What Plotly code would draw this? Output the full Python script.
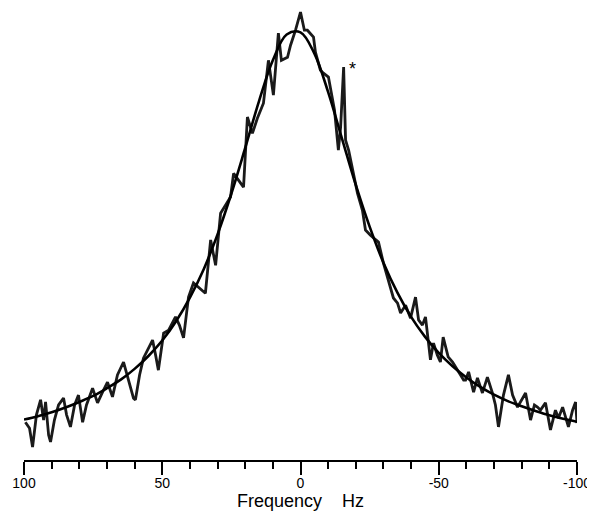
import plotly.graph_objects as go

# measured spectrum (frequency in Hz, intensity in arbitrary units)
spectrum_freq = [
    99.5, 98.0, 96.9, 95.5, 94.0, 92.9, 92.2, 91.1, 90.4, 89.0,
    87.5, 85.7, 84.6, 83.2, 81.7, 80.3, 78.8, 77.4, 75.2, 73.4,
    71.6, 69.8, 68.0, 66.2, 64.0, 62.2, 60.4, 59.7, 58.2, 56.8,
    55.3, 53.5, 52.4, 51.4, 49.5, 47.7, 45.2, 43.8, 42.3, 40.5,
    38.7, 36.9, 34.4, 32.5, 30.7, 28.9, 27.1, 25.3, 24.2, 22.4,
    20.6, 19.2, 17.4, 15.6, 13.4, 11.6, 9.8, 8.0, 6.9, 4.7,
    3.6, 1.8, 0.0, -1.4, -2.5, -4.7, -5.4, -7.2, -8.3, -10.1,
    -10.8, -12.3, -13.7, -14.5, -15.6, -16.3, -17.4, -18.8, -20.6, -22.4,
    -23.5, -25.3, -27.1, -28.2, -30.0, -31.8, -33.6, -35.1, -36.2, -38.0,
    -39.8, -41.6, -42.7, -44.1, -45.2, -47.0, -48.1, -49.5, -50.6, -51.6,
    -53.4, -55.0, -56.8, -59.0, -59.7, -60.8, -62.6, -64.0, -65.8, -67.6,
    -69.4, -70.5, -71.6, -73.4, -75.2, -76.7, -78.5, -79.9, -81.4, -83.2,
    -84.6, -85.7, -86.8, -88.6, -90.4, -92.2, -93.3, -94.8, -96.2, -96.9,
    -98.4, -99.5, -100.0,
]
spectrum_int = [
    8.8, 7.4, 3.0, 10.5, 14.0, 9.3, 13.5, 5.8, 4.2, 9.3,
    12.8, 14.4, 10.5, 7.7, 12.8, 15.1, 8.8, 12.8, 16.7, 13.3,
    15.8, 18.1, 14.7, 19.8, 22.8, 18.6, 14.4, 14.0, 19.8, 23.7,
    25.6, 27.9, 24.4, 20.9, 29.5, 30.2, 33.3, 31.4, 28.4, 37.9,
    41.2, 40.2, 38.8, 51.2, 45.3, 57.4, 59.3, 61.2, 66.7, 65.1,
    63.5, 79.8, 76.0, 79.5, 83.0, 93.0, 84.9, 99.3, 93.0, 93.7,
    96.5, 100.0, 104.2, 100.0, 100.0, 98.4, 94.9, 90.7, 90.0, 89.1,
    86.5, 81.4, 72.1, 77.4, 91.4, 74.4, 72.1, 67.4, 62.1, 58.1,
    53.5, 52.3, 51.2, 50.7, 45.8, 41.9, 37.7, 36.5, 34.2, 36.0,
    33.0, 37.9, 32.6, 31.4, 33.3, 23.3, 27.2, 24.4, 22.8, 28.6,
    24.0, 22.8, 20.9, 18.6, 18.6, 20.5, 15.8, 19.1, 15.6, 19.3,
    15.6, 12.8, 7.7, 15.1, 19.8, 15.1, 12.3, 14.0, 15.6, 9.3,
    12.8, 12.3, 11.6, 13.3, 7.0, 11.6, 9.8, 12.3, 9.3, 7.7,
    11.6, 13.5, 8.6,
]

fit_freq = [100, 95, 90, 85, 80, 75, 70, 65, 60, 55, 50, 45, 40, 35, 30, 25, 20, 15, 10, 5,
            0, -5, -10, -15, -20, -25, -30, -35, -40, -45, -50, -55, -60, -65, -70, -75,
            -80, -85, -90, -95, -100]
fit_int = [9.4, 10.2, 11.1, 12.2, 13.5, 14.9, 16.7, 18.7, 21.2, 24.2, 27.8, 32.3, 37.8, 44.4,
           52.5, 62.0, 72.6, 83.5, 93.0, 99.0, 99.5, 94.6, 85.6, 74.8, 64.0, 54.3, 45.9,
           39.0, 33.3, 28.7, 24.9, 21.8, 19.2, 17.0, 15.2, 13.7, 12.5, 11.4, 10.4, 9.6, 8.9]

tick_vals = [100, 50, 0, -50, -100]
tick_text = ["100", "50", "0", "-50", "-100"]

impurity_freq = -18.8
impurity_int = 91.0


def build_figure():
    fig = go.Figure()

    fig.add_trace(go.Scatter(
        x=spectrum_freq, y=spectrum_int, mode="lines",
        line=dict(color="#1a1a1a", width=2.8),
        cliponaxis=False, showlegend=False, hoverinfo="skip"
    ))
    fig.add_trace(go.Scatter(
        x=fit_freq, y=fit_int, mode="lines",
        line=dict(color="black", width=2.6, shape="spline", smoothing=1.0),
        cliponaxis=False, showlegend=False, hoverinfo="skip"
    ))

    fig.add_annotation(
        x=impurity_freq, y=impurity_int, xref="x", yref="y",
        text="*", showarrow=False,
        font=dict(family="Liberation Sans", size=18, color="black")
    )

    # page body adds 8px on the left/top, margins are shifted to make up for it
    fig.update_layout(
        width=595,
        height=514,
        margin=dict(l=16, r=26, t=2, b=62),
        paper_bgcolor="white",
        plot_bgcolor="white",
        font=dict(family="Liberation Sans, Arial, sans-serif", color="black"),
        xaxis=dict(
            range=[100, -100],
            tickmode="array", tickvals=tick_vals, ticktext=tick_text,
            ticks="outside", ticklen=13, tickwidth=2, tickcolor="black",
            ticklabelstandoff=-4,
            minor=dict(dtick=10, ticks="outside", ticklen=7, tickwidth=2, tickcolor="black"),
            showline=True, linecolor="black", linewidth=2,
            showgrid=False, zeroline=False,
            tickfont=dict(size=14, color="black"),
            title=dict(text="Frequency\u00a0\u00a0\u00a0 Hz",
                       font=dict(size=18, color="black"), standoff=2),
        ),
        yaxis=dict(
            range=[0, 104.7],
            visible=False, showgrid=False, zeroline=False,
        ),
    )
    return fig


def main():
    fig = build_figure()
    fig.write_html("out.html")


if __name__ == '__main__':
    main()
